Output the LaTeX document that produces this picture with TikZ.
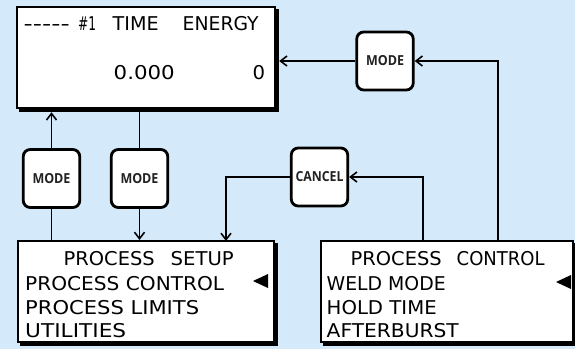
\documentclass[tikz,border=0pt]{standalone}
\usepackage{fontspec}
\usepackage{graphicx}
\usetikzlibrary{arrows.meta}
\newfontfamily\lcdfont{DejaVu Sans}
\newfontfamily\btnfont{Open Sans}
\definecolor{bgblue}{RGB}{212,234,250}
\definecolor{btntext}{RGB}{34,34,34}
\newcommand\fitw[2]{\resizebox{#1}{\height}{#2}}
\begin{document}
\begin{tikzpicture}[x=1pt,y=-1pt,
  lcdbox/.style={draw=black, line width=2pt, fill=white, inner sep=0pt},
  shadowbox/.style={fill=black, inner sep=0pt},
  btn/.style={draw=black, line width=2.8pt, fill=white, rounded corners=7pt,
    minimum width=56.5pt, minimum height=58pt, inner sep=0pt,
    font=\btnfont\bfseries\fontsize{13.8}{15}\selectfont, text=btntext},
  lcd/.style={inner sep=0pt, anchor=base west, font=\lcdfont\fontsize{19}{22}\selectfont},
  wire/.style={line width=1.6pt},
  arr/.style={wire, -{Straight Barb[length=6.5pt,width=10pt]}},
]
\useasboundingbox (0,0) rectangle (575,349);
\fill[bgblue] (0,0) rectangle (575,349);

% display boxes with shadows
\node[shadowbox, minimum width=260pt, minimum height=103pt] (dispsh) at (149,60.5) {};
\node[lcdbox, minimum width=258pt, minimum height=101pt] (disp) at (146,57.5) {};
\node[shadowbox, minimum width=258pt, minimum height=103pt] (setupsh) at (149,294.5) {};
\node[lcdbox, minimum width=256pt, minimum height=101pt] (setup) at (146,291.5) {};
\node[shadowbox, minimum width=254pt, minimum height=103pt] (ctrlsh) at (450,294.5) {};
\node[lcdbox, minimum width=252pt, minimum height=101pt] (ctrl) at (447,291.5) {};

% buttons
\node[btn] (modeL) at (51.5,178.5) {\fitw{38pt}{MODE}};
\node[btn] (modeM) at (139.5,178.5) {\fitw{38pt}{MODE}};
\node[btn] (cancel) at (319.5,177) {\fitw{48pt}{CANCEL}};
\node[btn] (modeR) at (385,61) {\fitw{38pt}{MODE}};

% connector end points
\coordinate (ctrlA) at (423,241);
\coordinate (ctrlB) at (498,241);
\coordinate (setupC) at (226,241);

% connectors
\draw[arr] (ctrlB) |- (modeR.east);
\draw[arr] (modeR.west) -- (modeR.west -| dispsh.east);
\draw[wire] (modeL.south) -- (modeL.south |- setup.north);
\draw[arr] (modeL.north) -- (modeL.north |- dispsh.south);
\draw[wire] (modeM.north |- disp.south) -- (modeM.north);
\draw[arr] (modeM.south) -- (modeM.south |- setup.north);
\draw[arr] (ctrlA) |- (cancel.east);
\draw[arr] (cancel.west) -| (setupC);

% top display text
\node[lcd] (t1) at (23.5,30.5) {\fitw{46pt}{-----}};
\node[lcd] (t2) at (78,30.5) {\fitw{18pt}{\#1}};
\node[lcd] (t3) at (112.5,30.5) {\fitw{46pt}{TIME}};
\node[lcd] (t4) at (182.5,30.5) {\fitw{76pt}{ENERGY}};
\node[lcd] (t5) at (113.5,79) {\fitw{61pt}{0.000}};
\node[lcd] (t6) at (252.5,79) {\fitw{12.5pt}{0}};

% process setup text
\node[lcd] (s1) at (63.5,265.5) {\fitw{91pt}{PROCESS}};
\node[lcd] (s2) at (170.5,265.5) {\fitw{63pt}{SETUP}};
\node[lcd] (s3) at (25,290.5) {\fitw{199pt}{PROCESS CONTROL}};
\node[lcd] (s4) at (25,314) {\fitw{174pt}{PROCESS LIMITS}};
\node[lcd] (s5) at (25,337.5) {\fitw{101pt}{UTILITIES}};
\fill (253,281) -- (268,274) -- (268,288) -- cycle;

% process control text
\node[lcd] (c1) at (350.5,265.5) {\fitw{91pt}{PROCESS}};
\node[lcd] (c2) at (456.5,265.5) {\fitw{88pt}{CONTROL}};
\node[lcd] (c3) at (326.5,290) {\fitw{119pt}{WELD MODE}};
\node[lcd] (c4) at (326.5,314) {\fitw{110pt}{HOLD TIME}};
\node[lcd] (c5) at (326.5,337.5) {\fitw{132pt}{AFTERBURST}};
\fill (556,282) -- (571,275) -- (571,289) -- cycle;
\end{tikzpicture}
\end{document}
